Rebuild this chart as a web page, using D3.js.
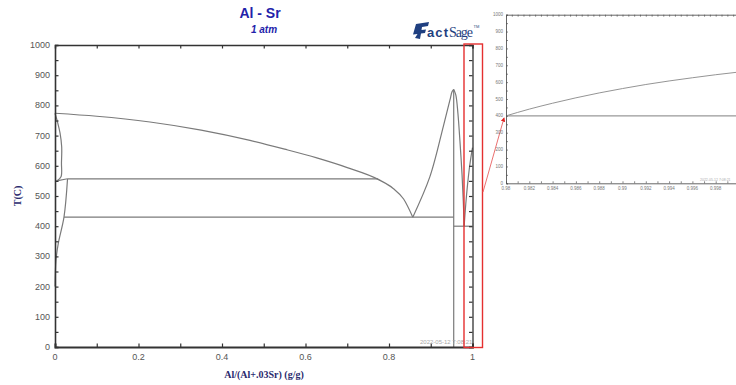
<!DOCTYPE html>
<html>
<head>
<meta charset="utf-8">
<script src="https://cdn.jsdelivr.net/npm/d3@7"></script>
<style>
  body { margin: 0; background: #fff; }
  svg { display: block; }
</style>
</head>
<body>
<div id="chart"></div>
<script>
// phase boundary lines, [x, T]
const liquidusLeft = [[0, 774], [0.1, 764], [0.2275, 745], [0.35, 718], [0.467, 684], [0.55, 655], [0.627, 626], [0.7, 594], [0.774, 555], [0.81, 525], [0.835, 490], [0.857, 430]];
const solvusLeft = [[0, 774], [0.006, 745], [0.012, 709], [0.016, 663], [0.0155, 610], [0.0144, 564], [0.004, 550], [0, 548]];
const shortLine = [[0.004, 550], [0.030, 557]];
const lowerBranch = [[0.030, 557], [0.0216, 431], [0.008, 344], [0.0024, 288], [0, 200]];
const peakLeft = [[0.857, 430], [0.898, 564], [0.930, 730], [0.946, 818], [0.951, 845], [0.955, 853]];
const peakRight = [[0.955, 853], [0.960, 835], [0.965, 775], [0.970, 680], [0.975, 570], [0.978, 480], [0.980, 400]];
const alLiquidus = [[0.98, 400], [0.982, 440], [0.984, 475], [0.986, 507], [0.988, 536], [0.99, 562], [0.992, 586], [0.994, 607], [0.996, 626], [0.998, 644], [1.0, 660]];
const horizontals = [[0.030, 0.774, 557], [0.0216, 0.955, 430], [0.955, 1.0, 400]];
const compoundX = 0.955;
const compoundTop = 853;

const xTicks = [0, 0.2, 0.4, 0.6, 0.8, 1];
const tTicks = [0, 100, 200, 300, 400, 500, 600, 700, 800, 900, 1000];
const insetXTicks = [0.98, 0.982, 0.984, 0.986, 0.988, 0.99, 0.992, 0.994, 0.996, 0.998];

const W = 736, H = 385;
const svg = d3.select("#chart").append("svg").attr("width", W).attr("height", H);

// main plot scales
const x = d3.scaleLinear().domain([0, 1]).range([55, 472.5]);
const y = d3.scaleLinear().domain([0, 1000]).range([347, 45]);

const lineColor = "#7a7a7a";
const axisColor = "#333";
const smooth = d3.line().x(d => x(d[0])).y(d => y(d[1])).curve(d3.curveMonotoneX);
const line = d3.line().x(d => x(d[0])).y(d => y(d[1])).curve(d3.curveCatmullRom.alpha(0.5));

// title
svg.append("text").attr("x", 260).attr("y", 18).attr("text-anchor", "middle")
  .style("font-family", "Liberation Sans, Arial, sans-serif").style("font-weight", "bold")
  .style("font-size", "14px").attr("fill", "#2222aa").text("Al - Sr");
svg.append("text").attr("x", 264).attr("y", 33).attr("text-anchor", "middle")
  .style("font-family", "Liberation Sans, Arial, sans-serif").style("font-weight", "bold")
  .style("font-style", "italic").style("font-size", "10px").attr("fill", "#2222aa").text("1 atm");

// FactSage logo
const logo = svg.append("g").attr("transform", "translate(413,22)");
logo.append("path").attr("d", "M3,2 L16,0 L15,4 L9,5 L8.5,8 L13,7.5 L12,11 L8,11.5 L7,17 L2,16 L4.5,12 L0,12.5 Z")
  .attr("fill", "#1f3f80");
logo.append("text").attr("x", 14).attr("y", 15).style("font-family", "Liberation Sans, Arial, sans-serif")
  .style("font-weight", "bold").style("font-size", "13px").attr("fill", "#1f3f80")
  .attr("textLength", 21).text("act");
logo.append("text").attr("x", 36).attr("y", 15).style("font-family", "Liberation Serif, serif")
  .style("font-size", "14px").attr("fill", "#1f3f80").attr("textLength", 24).text("Sage");
logo.append("text").attr("x", 60.5).attr("y", 6).style("font-family", "Liberation Sans, sans-serif")
  .style("font-size", "4px").attr("fill", "#1f3f80").text("TM");

// curves
const curves = svg.append("g").attr("fill", "none").attr("stroke", lineColor).attr("stroke-width", 1.2);
[liquidusLeft, alLiquidus].forEach(d => curves.append("path").attr("d", smooth(d)));
[solvusLeft, lowerBranch, peakLeft, peakRight].forEach(d => curves.append("path").attr("d", line(d)));
curves.append("path").attr("d", d3.line().x(d => x(d[0])).y(d => y(d[1]))(shortLine));
horizontals.forEach(h => {
  curves.append("line").attr("x1", x(h[0])).attr("x2", x(h[1])).attr("y1", y(h[2])).attr("y2", y(h[2]));
});
curves.append("line").attr("x1", x(compoundX)).attr("x2", x(compoundX)).attr("y1", y(compoundTop)).attr("y2", y(0));

// axes
const tickFont = "Liberation Sans, Arial, sans-serif";
const axBottom = svg.append("g").attr("transform", `translate(0,${y(0)})`)
  .call(d3.axisBottom(x).tickValues(d3.range(0, 1.0001, 0.1)).tickSize(-3.5).tickFormat(""));
const axLeft = svg.append("g").attr("transform", `translate(${x(0)},0)`)
  .call(d3.axisLeft(y).tickValues(d3.range(0, 1001, 50)).tickSize(-3.5).tickFormat(""));
const axTop = svg.append("g").attr("transform", `translate(0,${y(1000)})`)
  .call(d3.axisTop(x).tickValues(d3.range(0, 1.0001, 0.1)).tickSize(-3.5).tickFormat(""));
const axRight = svg.append("g").attr("transform", `translate(${x(1)},0)`)
  .call(d3.axisRight(y).tickValues(d3.range(0, 1001, 50)).tickSize(-3.5).tickFormat(""));
[axBottom, axLeft, axTop, axRight].forEach(g => {
  g.select(".domain").attr("stroke", axisColor).attr("stroke-width", 1.3);
  g.selectAll(".tick line").attr("stroke", axisColor).attr("stroke-width", 1.2);
});
axBottom.select(".domain").attr("stroke-width", 2);
axLeft.select(".domain").attr("stroke-width", 1.6);

svg.append("g").selectAll("text").data(xTicks).join("text")
  .attr("x", d => x(d)).attr("y", y(0) + 13).attr("text-anchor", "middle")
  .style("font-family", tickFont).style("font-size", "9px").attr("fill", "#555")
  .text(d => d3.format("~g")(d));
svg.append("g").selectAll("text").data(tTicks).join("text")
  .attr("x", x(0) - 5).attr("y", d => y(d) + 3).attr("text-anchor", "end")
  .style("font-family", tickFont).style("font-size", "9px").attr("fill", "#555")
  .text(d => d);

// axis titles
svg.append("text").attr("transform", "translate(21,196) rotate(-90)").attr("text-anchor", "middle")
  .style("font-family", "Liberation Serif, Times New Roman, serif").style("font-weight", "bold")
  .style("font-size", "10px").attr("fill", "#2a2a6e").text("T(C)");
svg.append("text").attr("x", 264).attr("y", 378).attr("text-anchor", "middle")
  .style("font-family", "Liberation Serif, Times New Roman, serif").style("font-weight", "bold")
  .style("font-size", "10px").attr("fill", "#2a2a6e").text("Al/(Al+.03Sr) (g/g)");

// date stamp
svg.append("text").attr("x", 420).attr("y", 344).style("font-family", tickFont)
  .style("font-size", "6px").attr("fill", "#aaa").text("2022-05-12 7:08:21");

// red zoom box and arrow
svg.append("rect").attr("x", 464).attr("y", 44).attr("width", 18.5).attr("height", 303.5)
  .attr("fill", "none").attr("stroke", "#e53030").attr("stroke-width", 1.4);
svg.append("defs").append("marker").attr("id", "arr").attr("viewBox", "0 0 10 10")
  .attr("refX", 8).attr("refY", 5).attr("markerWidth", 5).attr("markerHeight", 5).attr("orient", "auto")
  .append("path").attr("d", "M0,0 L10,5 L0,10 Z").attr("fill", "#e02020");
svg.append("line").attr("x1", 483).attr("y1", 192).attr("x2", 504).attr("y2", 118)
  .attr("stroke", "#e86060").attr("stroke-width", 0.9).attr("marker-end", "url(#arr)");

// inset
const ix = d3.scaleLinear().domain([0.98, 1.0]).range([506, 739]);
const iy = d3.scaleLinear().domain([0, 1000]).range([183.3, 14.7]);
const inset = svg.append("g");
const insetLine = d3.line().x(d => ix(d[0])).y(d => iy(d[1])).curve(d3.curveMonotoneX);
inset.append("path").attr("d", insetLine(alLiquidus)).attr("fill", "none").attr("stroke", "#888").attr("stroke-width", 0.9);
inset.append("line").attr("x1", ix(0.98)).attr("x2", ix(1.0)).attr("y1", iy(400)).attr("y2", iy(400))
  .attr("stroke", "#999").attr("stroke-width", 1.1);

const ib = inset.append("g").attr("transform", `translate(0,${iy(0)})`)
  .call(d3.axisBottom(ix).tickValues(d3.range(0.98, 1.0001, 0.001)).tickSize(-2).tickFormat(""));
const il = inset.append("g").attr("transform", `translate(${ix(0.98)},0)`)
  .call(d3.axisLeft(iy).tickValues(d3.range(0, 1001, 50)).tickSize(-2).tickFormat(""));
const it = inset.append("g").attr("transform", `translate(0,${iy(1000)})`)
  .call(d3.axisTop(ix).tickValues(d3.range(0.98, 1.0001, 0.0005)).tickSize(-2).tickFormat(""));
[ib, il, it].forEach(g => {
  g.select(".domain").attr("stroke", "#555").attr("stroke-width", 0.9);
  g.selectAll(".tick line").attr("stroke", "#555").attr("stroke-width", 0.7);
});
inset.append("g").selectAll("text").data(insetXTicks).join("text")
  .attr("x", d => ix(d)).attr("y", iy(0) + 6.5).attr("text-anchor", "middle")
  .style("font-family", tickFont).style("font-size", "4.5px").attr("fill", "#777")
  .text(d => d3.format("~g")(d));
inset.append("g").selectAll("text").data(tTicks).join("text")
  .attr("x", ix(0.98) - 3).attr("y", d => iy(d) + 1.6).attr("text-anchor", "end")
  .style("font-family", tickFont).style("font-size", "4.5px").attr("fill", "#777")
  .text(d => d);
inset.append("text").attr("x", 700).attr("y", 181).style("font-family", tickFont)
  .style("font-size", "3.5px").attr("fill", "#aaa").text("2022-05-12 7:08:21");
</script>
</body>
</html>
